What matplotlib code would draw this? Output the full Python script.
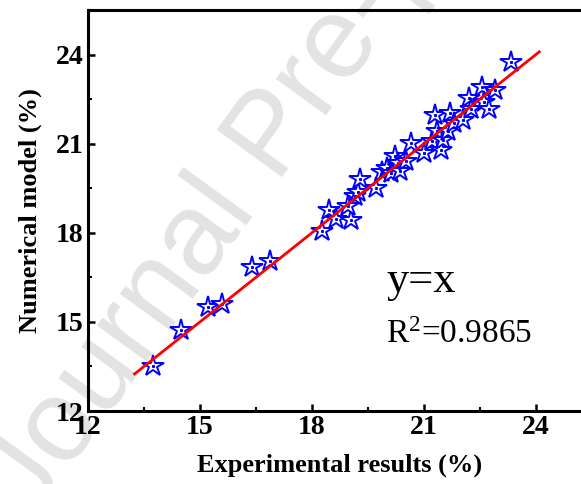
import matplotlib
matplotlib.use("Agg")
import matplotlib.pyplot as plt
from matplotlib.ticker import MultipleLocator

# experimental vs numerical values (%)
experimental = [13.74, 14.50, 15.23, 15.58, 16.39, 16.87, 18.28, 18.46, 18.66, 19.06,
                18.98, 19.16, 19.23, 19.28, 19.72, 19.87, 20.02, 20.12, 20.22, 20.32,
                20.37, 20.52, 20.65, 21.02, 21.21, 21.31, 21.36, 21.46, 21.51, 21.66,
                21.71, 21.81, 22.06, 22.21, 22.26, 22.56, 22.61, 22.76, 22.90, 23.35]
numerical = [13.50, 14.73, 15.51, 15.62, 16.85, 17.07, 18.07, 18.77, 18.46, 18.44,
             18.89, 19.24, 19.38, 19.80, 19.52, 20.04, 20.19, 20.02, 20.58, 20.36,
             20.08, 20.41, 21.03, 20.69, 21.08, 21.97, 21.42, 20.80, 21.14, 21.42,
             22.03, 21.69, 21.81, 22.53, 22.19, 22.92, 22.42, 22.19, 22.81, 23.75]

# y = x reference line ends
line_x = [13.25, 24.1]

ticks = [12, 15, 18, 21, 24]

plt.rcParams["font.family"] = ["Liberation Serif", "DejaVu Serif"]

fig = plt.figure(figsize=(5.81, 4.84), dpi=100)
ax = fig.add_axes([0.1515, 0.1508, 0.8666, 0.828])

# watermark
ax.text(0.47, 0.715, "Journal Pre-proof", transform=fig.transFigure,
        fontsize=84, family="Liberation Sans", color="#e3e3e3",
        rotation=54, rotation_mode="anchor", ha="center", va="center",
        zorder=0.5, clip_on=False)

ax.plot(experimental, numerical, linestyle="none", marker="*", markersize=16,
        markerfacecolor="white", markeredgecolor="#0000ff", markeredgewidth=1.4,
        zorder=2)
ax.plot(experimental, numerical, linestyle="none", marker="s", markersize=1.2,
        color="#0000ff", zorder=2.1)
ax.plot(line_x, line_x, color="#ff0000", linewidth=2, zorder=3)

ax.text(20.0, 16.0, "y=x", fontsize=32, va="baseline")
ax.text(20.0, 14.3, r"R$\mathregular{^2}$=0.9865", fontsize=24, va="baseline")

ax.set_xlim(12, 25.5)
ax.set_ylim(12, 25.5)
ax.set_xticks(ticks)
ax.set_yticks(ticks)
ax.xaxis.set_minor_locator(MultipleLocator(1.5))
ax.yaxis.set_minor_locator(MultipleLocator(1.5))
ax.tick_params(which="major", direction="in", length=5, width=1.8,
               labelsize=20, pad=3)
ax.tick_params(which="minor", direction="in", length=3, width=1.5)
for lab in ax.get_xticklabels() + ax.get_yticklabels():
    lab.set_fontweight("bold")
for sp in ax.spines.values():
    sp.set_linewidth(2.2)

ax.set_xlabel("Experimental results (%)", fontsize=19, fontweight="bold", labelpad=10)
ax.set_ylabel("Numerical model (%)", fontsize=19, fontweight="bold", labelpad=10)

fig.savefig("out.png", dpi=100)
